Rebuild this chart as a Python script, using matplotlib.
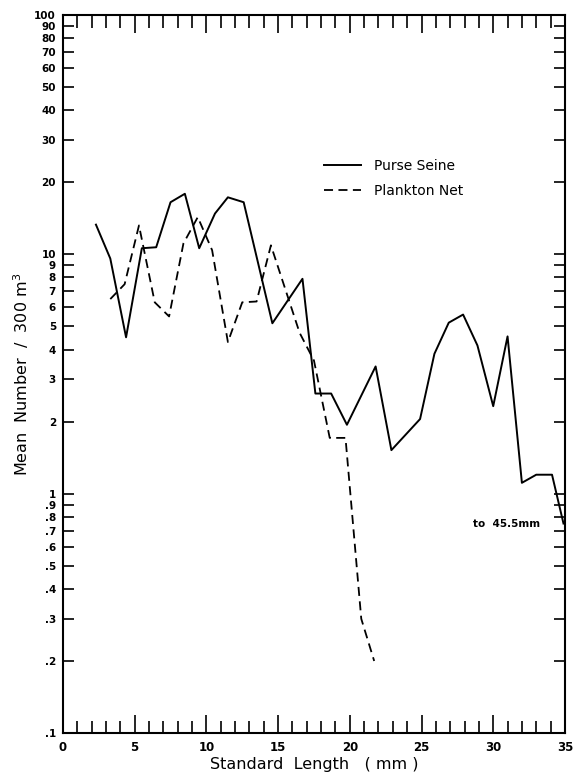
import matplotlib
matplotlib.use("Agg")
import matplotlib.pyplot as plt
from matplotlib.ticker import FixedLocator, NullFormatter, NullLocator

# ---------- data ----------
purse_x = [2.3, 3.3, 4.4, 5.5, 6.5, 7.5, 8.5, 9.5, 10.6, 11.5, 12.6, 14.6, 16.7,
           17.6, 18.7, 19.8, 21.8, 22.9, 24.9, 25.9, 26.9, 27.9, 28.9, 30.0,
           31.0, 32.0, 33.0, 34.1, 34.9]
purse_y = [13.3, 9.6, 4.5, 10.6, 10.7, 16.5, 17.9, 10.6, 14.8, 17.3, 16.5, 5.15, 7.9,
           2.62, 2.62, 1.94, 3.4, 1.52, 2.05, 3.84, 5.18, 5.6, 4.16, 2.32,
           4.54, 1.11, 1.2, 1.2, 0.75]

plankton_x = [3.3, 4.3, 5.3, 6.4, 7.4, 8.4, 9.4, 10.4, 11.5, 12.5, 13.5, 14.5,
              16.5, 17.5, 18.6, 19.7, 20.8, 21.7]
plankton_y = [6.5, 7.5, 13.2, 6.3, 5.5, 11.1, 14.3, 10.4, 4.3, 6.3, 6.35, 10.9,
              4.7, 3.6, 1.71, 1.71, 0.30, 0.2]

y_ticks = [0.1, 0.2, 0.3, 0.4, 0.5, 0.6, 0.7, 0.8, 0.9, 1, 2, 3, 4, 5, 6, 7, 8, 9,
           10, 20, 30, 40, 50, 60, 70, 80, 90, 100]
y_labels = [".1", ".2", ".3", ".4", ".5", ".6", ".7", ".8", ".9", "1", "2", "3", "4",
            "5", "6", "7", "8", "9", "10", "20", "30", "40", "50", "60", "70", "80",
            "90", "100"]
x_major = [0, 5, 10, 15, 20, 25, 30, 35]
x_minor = list(range(0, 36))

plt.rcParams["font.family"] = ["DejaVu Sans"]

fig = plt.figure(figsize=(5.83, 7.73), dpi=100)
ax = fig.add_axes([0.108, 0.0517, 0.861, 0.929])

ax.plot(purse_x, purse_y, color="black", lw=1.4, label="Purse Seine")
ax.plot(plankton_x, plankton_y, color="black", lw=1.3, dashes=(5, 3),
        label="Plankton Net")

ax.set_yscale("log")
ax.set_ylim(0.1, 100)
ax.set_xlim(0, 35)

ax.yaxis.set_major_locator(FixedLocator(y_ticks))
ax.set_yticklabels(y_labels, fontsize=7.5, fontweight="bold")
ax.yaxis.set_minor_locator(NullLocator())
ax.yaxis.set_minor_formatter(NullFormatter())

ax.xaxis.set_major_locator(FixedLocator(x_major))
ax.xaxis.set_minor_locator(FixedLocator(x_minor))
ax.set_xticklabels([str(v) for v in x_major], fontsize=8.5, fontweight="bold")

ax.tick_params(axis="x", which="major", direction="in", length=13, width=1.2,
               top=True, pad=6)
ax.tick_params(axis="x", which="minor", direction="in", length=9, width=1.2, top=True)
ax.tick_params(axis="y", which="major", direction="in", length=8, width=1.2,
               right=True, pad=5)

for s in ax.spines.values():
    s.set_linewidth(1.5)

ax.set_xlabel("Standard  Length   ( mm )", fontsize=11.5, labelpad=2)
ax.set_ylabel("Mean  Number  /  300 m$^3$", fontsize=11.5)
ax.yaxis.set_label_coords(-0.064, 0.5)

ax.legend(loc="center left", bbox_to_anchor=(0.52, 0.772), frameon=False,
          fontsize=10, handlelength=2.7, handletextpad=0.9, labelspacing=0.8,
          borderpad=0, borderaxespad=0)

ax.text(28.6, 0.75, "to  45.5mm", fontsize=7.5, fontweight="bold", va="center")

fig.savefig("out.png", dpi=100)
